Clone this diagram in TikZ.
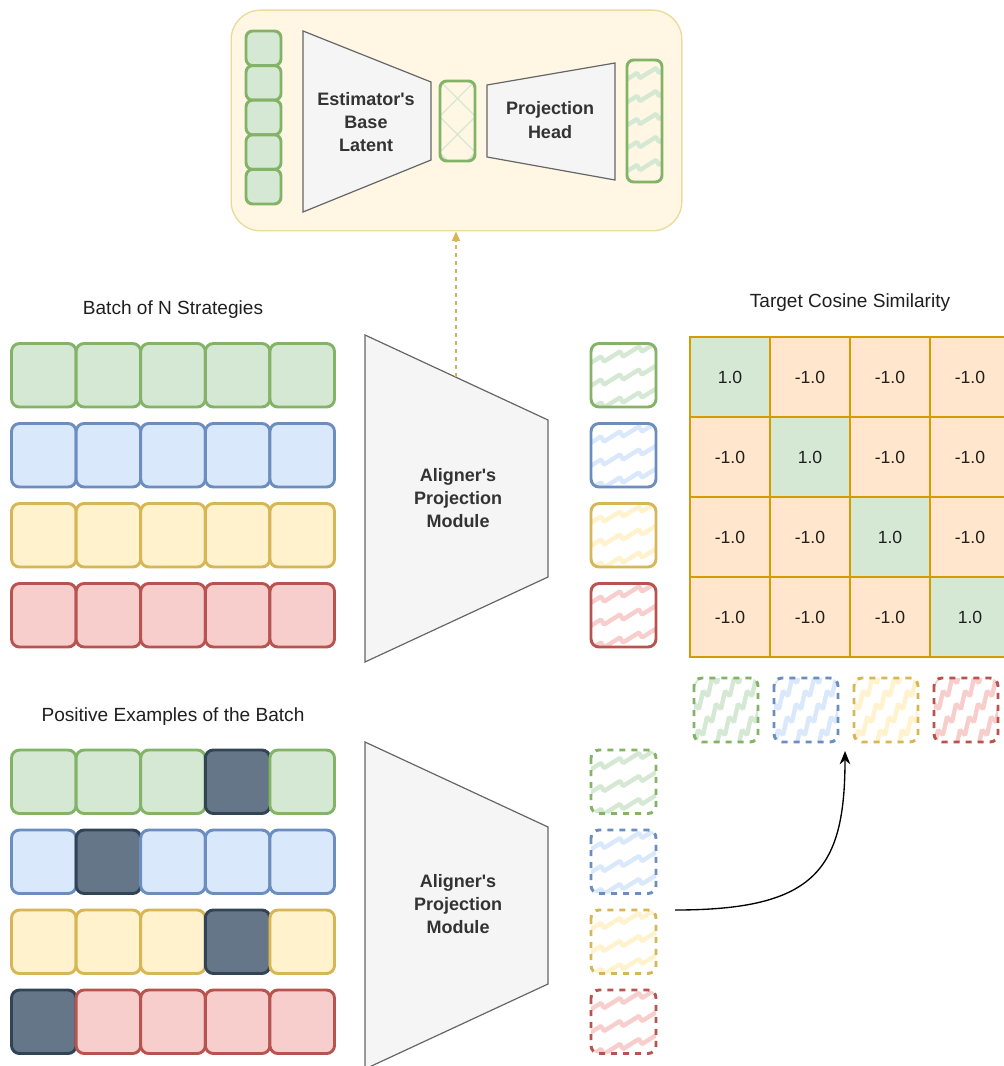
\documentclass[tikz,border=0pt]{standalone}
\usepackage{fontspec}
\setmainfont{Liberation Sans}[Ligatures=TeXOff]
\usetikzlibrary{arrows.meta}
\definecolor{gF}{HTML}{D5E8D4}\definecolor{gS}{HTML}{82B366}
\definecolor{bF}{HTML}{DAE8FC}\definecolor{bS}{HTML}{6C8EBF}
\definecolor{yF}{HTML}{FFF2CC}\definecolor{yS}{HTML}{D6B656}
\definecolor{rF}{HTML}{F8CECC}\definecolor{rS}{HTML}{B85450}
\definecolor{dF}{HTML}{647687}\definecolor{dS}{HTML}{314354}
\definecolor{oF}{HTML}{FFE6CC}\definecolor{oS}{HTML}{D79B00}
\definecolor{tF}{HTML}{F5F5F5}\definecolor{tS}{HTML}{666666}
\definecolor{pF}{HTML}{FFF7E3}\definecolor{pS}{HTML}{EADA9E}
\definecolor{txt}{HTML}{333333}
% zigzag fill, lines rising gently left to right
\newcommand\zzh[5]{%
  \begin{scope}
    \clip[rounded corners=6pt] (#1,#2) rectangle (#3,#4);
    \foreach \k in {-2,...,9}{
      \draw[#5, line width=3.3pt, line join=bevel] ({#1-6},{#2+\k*23}) \foreach \i in {1,...,7}{ -- ++(16,-10) -- ++(3,5)};
    }
  \end{scope}}
% zigzag fill, lines steep
\newcommand\zzv[5]{%
  \begin{scope}
    \clip[rounded corners=6pt] (#1,#2) rectangle (#3,#4);
    \foreach \k in {-4,...,4}{
      \draw[#5, line width=3.3pt, line join=bevel] ({#1+\k*22},{#4+6}) \foreach \i in {1,...,7}{ -- ++(4,-18) -- ++(5,5)};
    }
  \end{scope}}
\tikzset{
  cellbox/.style={line width=2.2pt, rounded corners=6pt},
  smallbox/.style={line width=2.2pt, rounded corners=5pt},
  dashbox/.style={line width=2.2pt, rounded corners=6pt, dash pattern=on 4.5pt off 4.5pt},
  trap/.style={draw=tS, fill=tF, line width=0.9pt},
  boldlbl/.style={font=\fontsize{13.5}{17.4}\selectfont\bfseries, text=txt, align=center},
  lbl/.style={font=\fontsize{14.3}{17}\selectfont, text=black!88},
  mcell/.style={draw=oS, line width=0.9pt, minimum width=60pt, minimum height=60pt, inner sep=0pt, font=\fontsize{13.2}{16}\selectfont, text=black!88}
}
\begin{document}
\begin{tikzpicture}[x=0.75pt,y=-0.75pt]
\useasboundingbox (0,0) rectangle (1003,1066);

% ---------- top panel ----------
\node[draw=pS, fill=pF, line width=1pt, rounded corners=22pt, minimum width=338pt, minimum height=165.5pt] (panel) at (456.5,120.5) {};
\foreach \k in {0,...,4}{
  \draw[smallbox, fill=gF, draw=gS] (246,{31+\k*34.6}) rectangle ++(35,34.6);
}
\draw[trap] (303,31) -- (431,82) -- (431,160) -- (303,212) -- cycle;
\node[boldlbl] (est) at (366,122) {Estimator's\\Base\\Latent};
% latent with cross hatch
\begin{scope}
  \clip[rounded corners=5pt] (440,81) rectangle (475,161);
  \foreach \k in {-2,...,4}{
    \draw[gF, line width=1pt] (440,{81+\k*36}) -- ++(40,40);
    \draw[gF, line width=1pt] (475,{81+\k*36}) -- ++(-40,40);
  }
\end{scope}
\draw[smallbox, draw=gS] (440,81) rectangle (475,161);
\draw[trap] (487,85) -- (615,63) -- (615,180) -- (487,157) -- cycle;
\node[boldlbl] (ph) at (550,120) {Projection\\Head};
\zzh{627}{60}{662}{182}{gF}
\draw[smallbox, draw=gS] (627,60) rectangle (662,182);

% ---------- batch ----------
\node[lbl] (batchlbl) at (173,310) {Batch of N Strategies};
\foreach \F/\S [count=\i from 0] in {gF/gS, bF/bS, yF/yS, rF/rS}{
  \foreach \c in {0,...,4}{
    \draw[cellbox, fill=\F, draw=\S] ({11.5+\c*64.6},{343.5+\i*80}) rectangle ++(64.6,63.5);
  }
}
\draw[trap] (365,335) -- (548,420) -- (548,577) -- (365,662) -- cycle;
\node[boldlbl] (al1) at (458,498) {Aligner's\\Projection\\Module};
\coordinate (dstart) at (456,377);
\draw[yS, line width=1pt, dash pattern=on 3pt off 3pt, -{Triangle[length=7pt,width=6pt]}] (dstart) -- (panel.south -| dstart);

\foreach \F/\S [count=\i from 0] in {gF/gS, bF/bS, yF/yS, rF/rS}{
  \pgfmathsetmacro\ya{343.5+\i*80}
  \pgfmathsetmacro\yb{407+\i*80}
  \zzh{591}{\ya}{656}{\yb}{\F}
  \draw[cellbox, draw=\S] (591,\ya) rectangle (656,\yb);
}

% ---------- positive examples ----------
\node[lbl] (poslbl) at (173,717) {Positive Examples of the Batch};
\foreach \F/\S/\D [count=\i from 0] in {gF/gS/3, bF/bS/1, yF/yS/3, rF/rS/0}{
  \foreach \c in {0,...,4}{
    \ifnum\c=\D
      \draw[cellbox, fill=dF, draw=dS] ({11.5+\c*64.6},{750+\i*80}) rectangle ++(64.6,63.5);
    \else
      \draw[cellbox, fill=\F, draw=\S] ({11.5+\c*64.6},{750+\i*80}) rectangle ++(64.6,63.5);
    \fi
  }
}
\draw[trap] (365,742) -- (548,827) -- (548,984) -- (365,1069) -- cycle;
\node[boldlbl] (al2) at (458,904) {Aligner's\\Projection\\Module};
\foreach \F/\S [count=\i from 0] in {gF/gS, bF/bS, yF/yS, rF/rS}{
  \pgfmathsetmacro\ya{750+\i*80}
  \pgfmathsetmacro\yb{813.5+\i*80}
  \zzh{591}{\ya}{656}{\yb}{\F}
  \draw[dashbox, draw=\S] (591,\ya) rectangle (656,\yb);
}

% ---------- matrix ----------
\node[lbl] (tcs) at (850,303) {Target Cosine Similarity};
\foreach \i in {0,...,3}{
  \foreach \j in {0,...,3}{
    \ifnum\i=\j
      \node[mcell, fill=gF] (m\i\j) at ({730+80*\j},{377+80*\i}) {1.0};
    \else
      \node[mcell, fill=oF] (m\i\j) at ({730+80*\j},{377+80*\i}) {-1.0};
    \fi
  }
}
\foreach \F/\S [count=\i from 0] in {gF/gS, bF/bS, yF/yS, rF/rS}{
  \pgfmathsetmacro\xa{694+\i*80}
  \pgfmathsetmacro\xb{758+\i*80}
  \zzv{\xa}{678}{\xb}{742}{\F}
  \draw[dashbox, draw=\S] (\xa,678) rectangle (\xb,742);
}

% ---------- curved arrow ----------
\coordinate (cs) at (675,910);
\coordinate (ce) at (845,751);
\draw[black, line width=1pt, -{Stealth[length=10pt,width=8pt]}] (cs) .. controls (815,910) and (845,870) .. (ce);
\end{tikzpicture}
\end{document}
